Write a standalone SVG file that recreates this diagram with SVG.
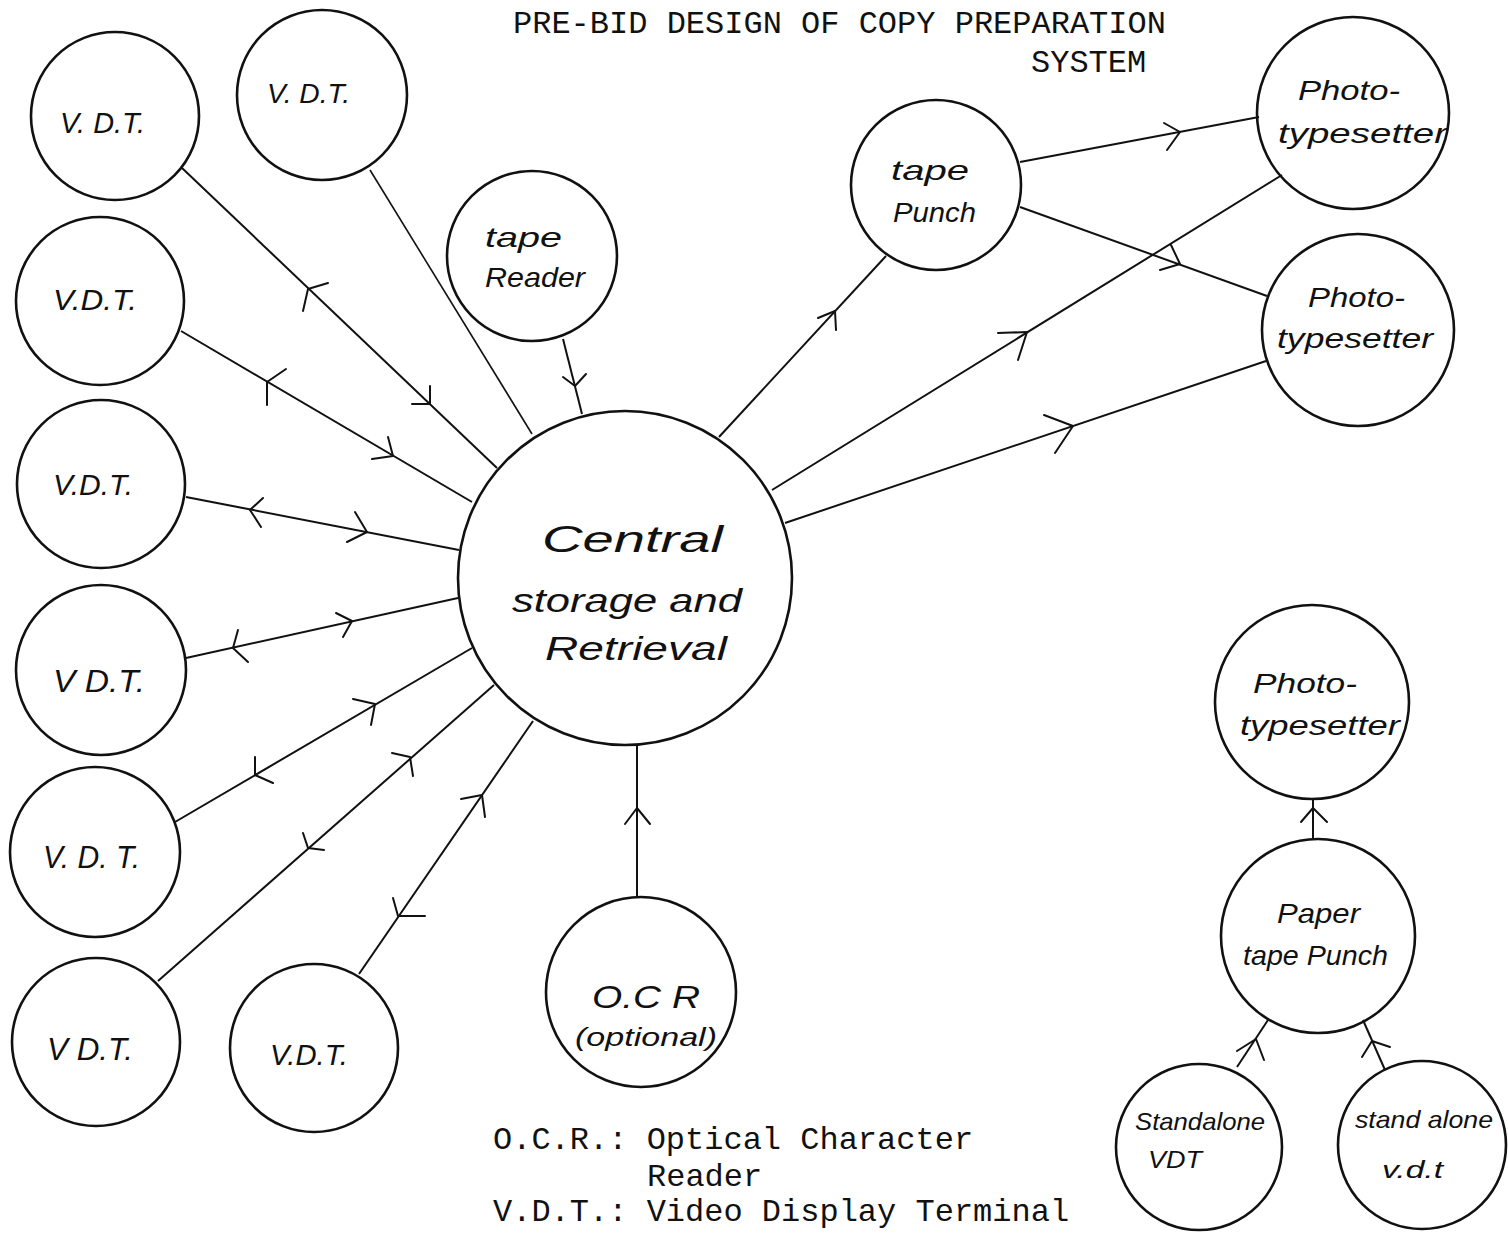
<svg xmlns="http://www.w3.org/2000/svg" width="1508" height="1238" viewBox="0 0 1508 1238">
<style>
  .node { fill: none; stroke: #111; stroke-width: 2.6; }
  .hw { font-family: "Liberation Sans", "DejaVu Sans", sans-serif; font-style: italic; fill: #111; }
  .type { font-family: "Liberation Mono", "DejaVu Sans Mono", monospace; font-size: 32px; fill: #111; }
  .conn line { stroke: #111; stroke-width: 2; }
  .conn path { fill: none; stroke: #111; stroke-width: 2; stroke-linecap: round; stroke-linejoin: round; }
</style>
<rect width="1508" height="1238" fill="#fff"/>

<g id="title">
  <text class="type" x="513" y="33">PRE-BID DESIGN OF COPY PREPARATION</text>
  <text class="type" x="1031" y="72">SYSTEM</text>
</g>

<g id="connectors" class="conn">
  <!-- VDT1 <-> central -->
  <line x1="182" y1="168" x2="497" y2="468"/>
  <path d="M328,283 L308,289 L303,311"/>
  <path d="M430,386 L430,404 L412,404"/>
  <!-- VDT2 - central -->
  <line x1="370" y1="170" x2="532" y2="434" style="stroke-width:1.6"/>
  <!-- VDT3 <-> central -->
  <line x1="181" y1="331" x2="472" y2="502"/>
  <path d="M286,369 L267,382 L267,405"/>
  <path d="M388,437 L393,456 L372,459"/>
  <!-- VDT4 <-> central -->
  <line x1="186" y1="497" x2="459" y2="550"/>
  <path d="M263,498 L250,510 L261,527"/>
  <path d="M355,512 L367,532 L347,542"/>
  <!-- VDT5 <-> central -->
  <line x1="186" y1="658" x2="458" y2="598"/>
  <path d="M238,630 L233,648 L248,662"/>
  <path d="M336,613 L352,621 L343,637"/>
  <!-- VDT6 <-> central -->
  <line x1="175" y1="822" x2="472" y2="648"/>
  <path d="M353,699 L375,704 L371,725"/>
  <path d="M255,757 L255,775 L273,783"/>
  <!-- VDT7 <-> central -->
  <line x1="158" y1="981" x2="494" y2="685"/>
  <path d="M392,753 L410,757 L413,776"/>
  <path d="M303,833 L308,848 L324,850"/>
  <!-- VDT8 <-> central -->
  <line x1="359" y1="974" x2="533" y2="721"/>
  <path d="M461,799 L482,795 L485,817"/>
  <path d="M393,898 L398,916 L425,916"/>
  <!-- tape reader -> central -->
  <line x1="563" y1="339" x2="582" y2="414"/>
  <path d="M563,377 L575,386 L586,374"/>
  <!-- central -> tape punch -->
  <line x1="719" y1="437" x2="886" y2="256"/>
  <path d="M818,318 L835,311 L836,330"/>
  <!-- central -> phototypesetter 1 -->
  <line x1="772" y1="490" x2="1282" y2="175"/>
  <path d="M998,333 L1027,332 L1018,360"/>
  <!-- central -> phototypesetter 2 -->
  <line x1="785" y1="523" x2="1266" y2="361"/>
  <path d="M1044,415 L1073,426 L1055,453"/>
  <!-- tape punch -> phototypesetter 1 -->
  <line x1="1020" y1="162" x2="1259" y2="117"/>
  <path d="M1164,123 L1180,132 L1167,150"/>
  <!-- tape punch -> phototypesetter 2 -->
  <line x1="1020" y1="207" x2="1267" y2="296"/>
  <path d="M1171,245 L1180,264 L1160,270"/>
  <!-- OCR -> central -->
  <line x1="637" y1="897" x2="637" y2="745"/>
  <path d="M625,824 L637,808 L650,824"/>
  <!-- paper tape punch -> phototypesetter 3 -->
  <line x1="1313" y1="839" x2="1313" y2="799"/>
  <path d="M1301,822 L1313,808 L1327,822"/>
  <!-- standalone VDTs -> paper tape punch -->
  <line x1="1237" y1="1067" x2="1268" y2="1020"/>
  <path d="M1237,1051 L1256,1039 L1264,1060"/>
  <line x1="1385" y1="1070" x2="1363" y2="1020"/>
  <path d="M1362,1057 L1372,1041 L1390,1047"/>
</g>

<g id="vdt1"><circle class="node" cx="115" cy="116" r="84"/><text class="hw" x="60" y="133" font-size="30" textLength="85" lengthAdjust="spacingAndGlyphs">V. D.T.</text></g>
<g id="vdt2"><circle class="node" cx="322" cy="95" r="85"/><text class="hw" x="267" y="103" font-size="28" textLength="83" lengthAdjust="spacingAndGlyphs">V. D.T.</text></g>
<g id="vdt3"><circle class="node" cx="100" cy="301" r="84"/><text class="hw" x="53" y="310" font-size="30" textLength="84" lengthAdjust="spacingAndGlyphs">V.D.T.</text></g>
<g id="vdt4"><circle class="node" cx="101" cy="484" r="84"/><text class="hw" x="53" y="495" font-size="30" textLength="80" lengthAdjust="spacingAndGlyphs">V.D.T.</text></g>
<g id="vdt5"><circle class="node" cx="101" cy="670" r="85"/><text class="hw" x="53" y="692" font-size="32" textLength="92" lengthAdjust="spacingAndGlyphs">V D.T.</text></g>
<g id="vdt6"><circle class="node" cx="95" cy="852" r="85"/><text class="hw" x="43" y="868" font-size="32" textLength="97" lengthAdjust="spacingAndGlyphs">V. D. T.</text></g>
<g id="vdt7"><circle class="node" cx="96" cy="1042" r="84"/><text class="hw" x="47" y="1060" font-size="32" textLength="86" lengthAdjust="spacingAndGlyphs">V D.T.</text></g>
<g id="vdt8"><circle class="node" cx="314" cy="1048" r="84"/><text class="hw" x="270" y="1065" font-size="30" textLength="78" lengthAdjust="spacingAndGlyphs">V.D.T.</text></g>

<g id="tape-reader"><circle class="node" cx="532" cy="256" r="85"/>
  <text class="hw" x="485" y="247" font-size="28" textLength="77" lengthAdjust="spacingAndGlyphs">tape</text>
  <text class="hw" x="485" y="287" font-size="28" textLength="100" lengthAdjust="spacingAndGlyphs">Reader</text></g>

<g id="central"><circle class="node" cx="625" cy="578" r="167"/>
  <text class="hw" x="542" y="552" font-size="36" textLength="181" lengthAdjust="spacingAndGlyphs">Central</text>
  <text class="hw" x="512" y="612" font-size="34" textLength="230" lengthAdjust="spacingAndGlyphs">storage and</text>
  <text class="hw" x="545" y="660" font-size="34" textLength="182" lengthAdjust="spacingAndGlyphs">Retrieval</text></g>

<g id="ocr"><circle class="node" cx="641" cy="992" r="95"/>
  <text class="hw" x="592" y="1008" font-size="32" textLength="108" lengthAdjust="spacingAndGlyphs">O.C R</text>
  <text class="hw" x="575" y="1046" font-size="26" textLength="142" lengthAdjust="spacingAndGlyphs">(optional)</text></g>

<g id="tape-punch"><circle class="node" cx="936" cy="185" r="85"/>
  <text class="hw" x="891" y="180" font-size="28" textLength="78" lengthAdjust="spacingAndGlyphs">tape</text>
  <text class="hw" x="893" y="222" font-size="28" textLength="83" lengthAdjust="spacingAndGlyphs">Punch</text></g>

<g id="phototypesetter-1"><circle class="node" cx="1353" cy="113" r="96"/>
  <text class="hw" x="1298" y="100" font-size="28" textLength="102" lengthAdjust="spacingAndGlyphs">Photo-</text>
  <text class="hw" x="1278" y="143" font-size="28" textLength="169" lengthAdjust="spacingAndGlyphs">typesetter</text></g>

<g id="phototypesetter-2"><circle class="node" cx="1358" cy="330" r="96"/>
  <text class="hw" x="1308" y="307" font-size="28" textLength="97" lengthAdjust="spacingAndGlyphs">Photo-</text>
  <text class="hw" x="1277" y="348" font-size="28" textLength="156" lengthAdjust="spacingAndGlyphs">typesetter</text></g>

<g id="phototypesetter-3"><circle class="node" cx="1312" cy="702" r="97"/>
  <text class="hw" x="1253" y="693" font-size="28" textLength="104" lengthAdjust="spacingAndGlyphs">Photo-</text>
  <text class="hw" x="1240" y="735" font-size="28" textLength="160" lengthAdjust="spacingAndGlyphs">typesetter</text></g>

<g id="paper-tape-punch"><circle class="node" cx="1318" cy="936" r="97"/>
  <text class="hw" x="1277" y="923" font-size="28" textLength="83" lengthAdjust="spacingAndGlyphs">Paper</text>
  <text class="hw" x="1243" y="965" font-size="28" textLength="145" lengthAdjust="spacingAndGlyphs">tape Punch</text></g>

<g id="standalone-vdt-1"><circle class="node" cx="1199" cy="1147" r="83"/>
  <text class="hw" x="1135" y="1130" font-size="24" textLength="130" lengthAdjust="spacingAndGlyphs">Standalone</text>
  <text class="hw" x="1148" y="1168" font-size="24" textLength="54" lengthAdjust="spacingAndGlyphs">VDT</text></g>

<g id="standalone-vdt-2"><circle class="node" cx="1422" cy="1145" r="84"/>
  <text class="hw" x="1355" y="1128" font-size="24" textLength="138" lengthAdjust="spacingAndGlyphs">stand alone</text>
  <text class="hw" x="1382" y="1178" font-size="24" textLength="61" lengthAdjust="spacingAndGlyphs">v.d.t</text></g>

<g id="legend">
  <text class="type" x="493" y="1149">O.C.R.: Optical Character</text>
  <text class="type" x="647" y="1186">Reader</text>
  <text class="type" x="493" y="1221">V.D.T.: Video Display Terminal</text>
</g>
</svg>
